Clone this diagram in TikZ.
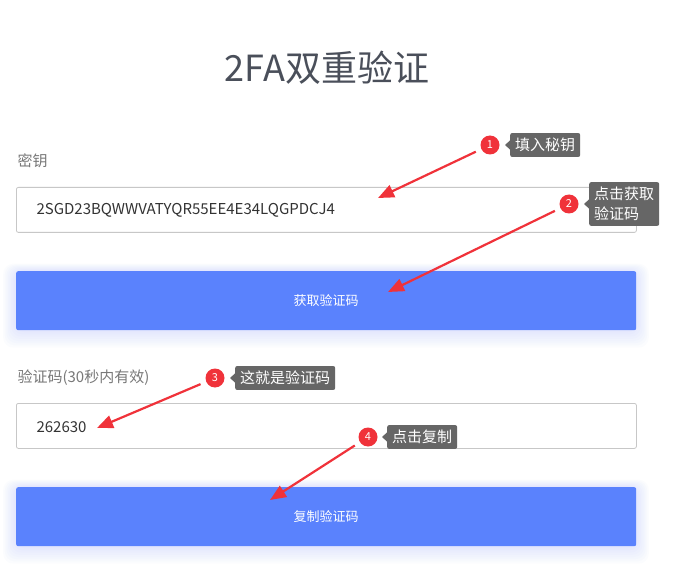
\documentclass[tikz,border=0pt]{standalone}
\usepackage{fontspec}
\setmainfont{Noto Sans CJK SC}
\usetikzlibrary{arrows.meta,calc}
\definecolor{btn}{RGB}{90,130,253}
\definecolor{mark}{RGB}{240,50,58}
\definecolor{tip}{RGB}{102,102,102}
\definecolor{ttl}{RGB}{74,79,90}
\definecolor{lbl}{RGB}{120,120,120}
\begin{document}
\begin{tikzpicture}[x=1pt,y=-1pt,
 inbox/.style={draw=black!22,line width=0.8pt,rounded corners=2pt,minimum width=620pt,minimum height=45pt,anchor=north west},
 btnbox/.style={fill=btn,rounded corners=2pt,minimum width=620pt,minimum height=59pt,anchor=north west,text=white,font=\fontsize{13}{15}\selectfont},
 lab/.style={anchor=west,text=lbl,font=\fontsize{15}{17}\selectfont},
 val/.style={anchor=west,text=black!80,font=\fontsize{15}{17}\selectfont},
 num/.style={circle,fill=mark,minimum size=19pt,inner sep=0pt,text=white,font=\fontsize{11}{12}\selectfont},
 tipbox/.style={fill=tip,rounded corners=2pt,text=white,anchor=west,inner sep=5pt,align=left,font=\fontsize{15}{20}\selectfont},
 arr/.style={draw=mark,fill=mark,line width=2.2pt,-{Triangle[length=16pt,width=13pt]},shorten <=6pt}]
\useasboundingbox[fill=white] (0,0) rectangle (678,583);
\node (title) at (327,68) {\fontsize{36}{40}\selectfont\color{ttl}2FA双重验证};
\node[lab] (l1) at (14,161) {密钥};
\node[inbox] (in1) at (16,187) {};
\node[val] (v1) at (33,210) {2SGD23BQWWVATYQR55EE4E34LQGPDCJ4};
\foreach \yy in {271,487}{
 \foreach \k in {1,...,8}{\fill[btn,opacity=0.018,rounded corners=10pt] (16-\k*1.6,\yy-\k*0.9) rectangle (636+\k*1.6,\yy+59+\k*2.2);}}
\node[btnbox] (b1) at (16,271) {获取验证码};
\node[lab] (l2) at (14,378) {验证码(30秒内有效)};
\node[inbox] (in2) at (16,403) {};
\node[val] (v2) at (33,427) {262630};
\node[btnbox] (b2) at (16,487) {复制验证码};
\coordinate (t1) at (378,198);
\coordinate (t2) at (388,292);
\coordinate (t3) at (97,428);
\coordinate (t4) at (270,500);
\foreach \i/\cx/\cy/\bx/\txt in {1/490/145/510/填入秘钥, 2/569/204/589/{点击获取\\验证码}, 3/215/378/235/这就是验证码, 4/368/437/387/点击复制}{
 \node[num] (n\i) at (\cx,\cy) {\i};
 \node[tipbox] (tb\i) at (\bx,\cy) {\txt};
 \fill[tip] ($(tb\i.west)+(0.5,-5)$) -- ($(tb\i.west)+(-5,0)$) -- ($(tb\i.west)+(0.5,5)$) -- cycle;
 \draw[arr] (n\i) -- (t\i);
}
\end{tikzpicture}
\end{document}
